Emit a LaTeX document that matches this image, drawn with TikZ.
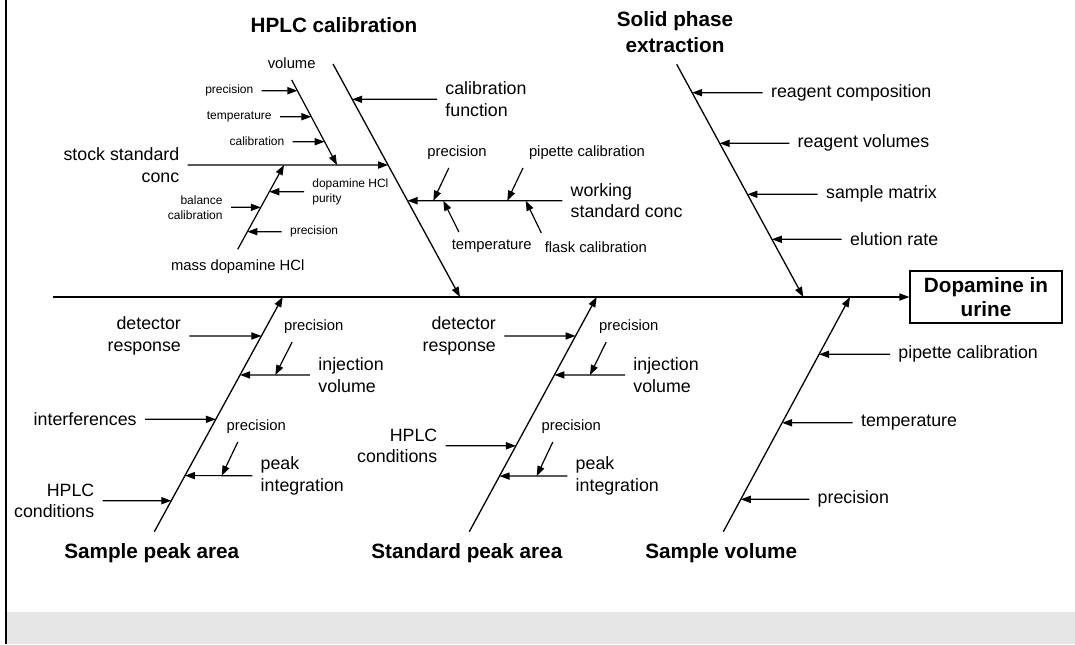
\documentclass[tikz,border=0pt]{standalone}
\usepackage{fontspec}
\setmainfont{Liberation Sans}
\usetikzlibrary{arrows.meta,positioning,calc}
\definecolor{bandgray}{HTML}{E6E6E6}

\begin{document}
\begin{tikzpicture}[x=0.5pt, y=-0.5pt,
    bone/.style={line width=0.65pt},
    arr/.style={line width=0.6pt, -{Triangle[length=5pt,width=3.6pt]}},
    lbig/.style={font=\fontsize{8.9}{10.75}\selectfont, inner sep=4pt},
    lmid/.style={font=\fontsize{7.4}{9}\selectfont, inner sep=4pt},
    lsmall/.style={font=\fontsize{6}{7.5}\selectfont, inner sep=4pt},
    head/.style={font=\bfseries\fontsize{10.35}{12.85}\selectfont, align=center},
    effect/.style={draw, line width=0.65pt, minimum width=76pt, minimum height=26pt, inner sep=0pt, align=center, font=\bfseries\fontsize{10.35}{12.2}\selectfont}
  ]
  \useasboundingbox (0,0) rectangle (1075,644);
  \fill[bandgray] (7,612) rectangle (1075,644);
  \draw[line width=1.15pt] (6,0) -- (6,644);

  % spine and effect
  \coordinate (spine) at (53,297);
  \node[effect] (dop) at (986,297) {Dopamine in\\urine};
  \draw[arr, bone] (spine) -- (dop);

  % HPLC calibration
  \coordinate (hplc-a) at (333,64);
  \coordinate (hplc-b) at (460,297);
  \node[head] (hplc) at (334,25) {HPLC calibration};
  \draw[arr, bone] (hplc-a) -- (hplc-b);
  \coordinate (hplc-1) at ($(hplc-a)!0.1515!(hplc-b)$);
  \coordinate (hplc-2) at ($(hplc-a)!0.4335!(hplc-b)$);
  \coordinate (hplc-3) at ($(hplc-a)!0.5867!(hplc-b)$);
  \node[lbig, anchor=west, align=left] (calfun) at (437,99.3) {calibration\\function};
  \draw[arr] (calfun) -- (hplc-1);

  \node[lbig, anchor=east, align=right] (stock) at (187.7,165) {stock standard\\conc};
  \draw[arr] (stock) -- (hplc-2);

  \coordinate (vol-a) at (291.7,80);
  \coordinate (vol-b) at (337,165);
  \node[lmid, above=1.5pt of vol-a] (vol) {volume};
  \draw[arr] (vol-a) -- (vol-b);
  \coordinate (vol-1) at ($(vol-a)!0.126!(vol-b)$);
  \coordinate (vol-2) at ($(vol-a)!0.432!(vol-b)$);
  \coordinate (vol-3) at ($(vol-a)!0.726!(vol-b)$);
  \node[lsmall, anchor=east] (vol-prec) at (261.7,90.7) {precision};
  \draw[arr] (vol-prec) -- (vol-1);
  \node[lsmall, anchor=east] (vol-temp) at (280,116.7) {temperature};
  \draw[arr] (vol-temp) -- (vol-2);
  \node[lsmall, anchor=east] (vol-cal) at (292.7,141.7) {calibration};
  \draw[arr] (vol-cal) -- (vol-3);

  \coordinate (mass-a) at (237.7,249.3);
  \coordinate (mass-b) at (284,165);
  \node[lmid, below=1pt of mass-a] (mass) {mass dopamine HCl};
  \draw[arr] (mass-a) -- (mass-b);
  \coordinate (mass-1) at ($(mass-a)!0.683!(mass-b)$);
  \coordinate (mass-2) at ($(mass-a)!0.498!(mass-b)$);
  \coordinate (mass-3) at ($(mass-a)!0.209!(mass-b)$);
  \node[lsmall, anchor=west, align=left] (purity) at (304,191.7) {dopamine HCl\\purity};
  \draw[arr] (purity) -- (mass-1);
  \node[lsmall, anchor=east, align=right] (balance) at (231,207.3) {balance\\calibration};
  \draw[arr] (balance) -- (mass-2);
  \node[lsmall, anchor=west] (mass-prec) at (281.7,231.7) {precision};
  \draw[arr] (mass-prec) -- (mass-3);

  \node[lbig, anchor=west, align=left] (work) at (562.3,200.7) {working\\standard conc};
  \draw[arr] (work) -- (hplc-3);
  \coordinate (work-1) at (433.3,200.7);
  \coordinate (work-2) at (507.3,200.7);
  \coordinate (work-3) at (443.3,200.7);
  \coordinate (work-4) at (525.7,200.7);
  \node[lmid] (work-prec) at (457,152.7) {precision};
  \draw[arr] ([xshift=14.9pt]work-prec.south west) -- (work-1);
  \node[lmid] (work-pip) at (587,152.7) {pipette calibration};
  \draw[arr] ([xshift=1.2pt]work-pip.south west) -- (work-2);
  \node[lmid] (work-temp) at (491.7,246.7) {temperature};
  \draw[arr] ([xshift=7.75pt]work-temp.north west) -- (work-3);
  \node[lmid] (work-flask) at (595.8,246.7) {flask calibration};
  \draw[arr] ([xshift=2.45pt]work-flask.north west) -- (work-4);

  % Solid phase extraction
  \coordinate (spe-a) at (676.7,64.3);
  \coordinate (spe-b) at (803.3,297);
  \node[head] (spe) at (675,32) {Solid phase\\extraction};
  \draw[arr, bone] (spe-a) -- (spe-b);
  \coordinate (spe-1) at ($(spe-a)!0.122!(spe-b)$);
  \coordinate (spe-2) at ($(spe-a)!0.3395!(spe-b)$);
  \coordinate (spe-3) at ($(spe-a)!0.5587!(spe-b)$);
  \coordinate (spe-4) at ($(spe-a)!0.752!(spe-b)$);
  \node[lbig, anchor=west] (spe-comp) at (762.7,92.7) {reagent composition};
  \draw[arr] (spe-comp) -- (spe-1);
  \node[lbig, anchor=west] (spe-vol) at (789.3,143.3) {reagent volumes};
  \draw[arr] (spe-vol) -- (spe-2);
  \node[lbig, anchor=west] (spe-mat) at (817.7,194.3) {sample matrix};
  \draw[arr] (spe-mat) -- (spe-3);
  \node[lbig, anchor=west] (spe-elu) at (841.7,239.3) {elution rate};
  \draw[arr] (spe-elu) -- (spe-4);

  % Sample peak area
  \coordinate (spa-a) at (154.3,531.7);
  \coordinate (spa-b) at (282.7,297);
  \node[head] (spa) at (151.8,553.3) {Sample peak area};
  \draw[arr, bone] (spa-a) -- (spa-b);
  \coordinate (spa-1) at ($(spa-a)!0.834!(spa-b)$);
  \coordinate (spa-2) at ($(spa-a)!0.668!(spa-b)$);
  \coordinate (spa-3) at ($(spa-a)!0.479!(spa-b)$);
  \coordinate (spa-4) at ($(spa-a)!0.239!(spa-b)$);
  \coordinate (spa-5) at ($(spa-a)!0.132!(spa-b)$);
  \node[lbig, anchor=east, align=right] (spa-det) at (189.3,336) {detector\\response};
  \draw[arr] (spa-det) -- (spa-1);
  \node[lbig, anchor=west, align=left] (spa-inj) at (310,375) {injection\\volume};
  \draw[arr] (spa-inj) -- (spa-2);
  \coordinate (spa-inj-p) at (275.3,375);
  \node[lmid] (spa-prec1) at (313.7,326.7) {precision};
  \draw[arr] ([xshift=8.25pt]spa-prec1.south west) -- (spa-inj-p);
  \node[lbig, anchor=east] (spa-int) at (145,419.3) {interferences};
  \draw[arr] (spa-int) -- (spa-3);
  \node[lbig, anchor=west, align=left] (spa-peak) at (252.3,475.7) {peak\\integration};
  \draw[arr] (spa-peak) -- (spa-4);
  \coordinate (spa-peak-p) at (221.7,475.7);
  \node[lmid] (spa-prec2) at (256.3,426.7) {precision};
  \draw[arr] ([xshift=9.75pt]spa-prec2.south west) -- (spa-peak-p);
  \node[lbig, anchor=east, align=right] (spa-cond) at (102.7,500.7) {HPLC\\conditions};
  \draw[arr] (spa-cond) -- (spa-5);

  % Standard peak area
  \coordinate (std-a) at (469.3,531.7);
  \coordinate (std-b) at (596.7,297);
  \node[head] (std) at (466.8,553.3) {Standard peak area};
  \draw[arr, bone] (std-a) -- (std-b);
  \coordinate (std-1) at ($(std-a)!0.834!(std-b)$);
  \coordinate (std-2) at ($(std-a)!0.668!(std-b)$);
  \coordinate (std-3) at ($(std-a)!0.366!(std-b)$);
  \coordinate (std-4) at ($(std-a)!0.237!(std-b)$);
  \node[lbig, anchor=east, align=right] (std-det) at (504.3,336) {detector\\response};
  \draw[arr] (std-det) -- (std-1);
  \node[lbig, anchor=west, align=left] (std-inj) at (625,375) {injection\\volume};
  \draw[arr] (std-inj) -- (std-2);
  \coordinate (std-inj-p) at (590,375);
  \node[lmid] (std-prec1) at (628.8,326.7) {precision};
  \draw[arr] ([xshift=7.7pt]std-prec1.south west) -- (std-inj-p);
  \node[lbig, anchor=east, align=right] (std-cond) at (445.7,445.7) {HPLC\\conditions};
  \draw[arr] (std-cond) -- (std-3);
  \node[lbig, anchor=west, align=left] (std-peak) at (567.3,476) {peak\\integration};
  \draw[arr] (std-peak) -- (std-4);
  \coordinate (std-peak-p) at (536.7,476);
  \node[lmid] (std-prec2) at (571.2,426.7) {precision};
  \draw[arr] ([xshift=9.8pt]std-prec2.south west) -- (std-peak-p);

  % Sample volume
  \coordinate (svol-a) at (723.3,531.7);
  \coordinate (svol-b) at (850,297);
  \node[head] (svol) at (721.2,553.3) {Sample volume};
  \draw[arr, bone] (svol-a) -- (svol-b);
  \coordinate (svol-1) at ($(svol-a)!0.756!(svol-b)$);
  \coordinate (svol-2) at ($(svol-a)!0.464!(svol-b)$);
  \coordinate (svol-3) at ($(svol-a)!0.138!(svol-b)$);
  \node[lbig, anchor=west] (svol-pip) at (890,354.3) {pipette calibration};
  \draw[arr] (svol-pip) -- (svol-1);
  \node[lbig, anchor=west] (svol-temp) at (852.7,422.7) {temperature};
  \draw[arr] (svol-temp) -- (svol-2);
  \node[lbig, anchor=west] (svol-prec) at (809.3,499.3) {precision};
  \draw[arr] (svol-prec) -- (svol-3);
\end{tikzpicture}
\end{document}
